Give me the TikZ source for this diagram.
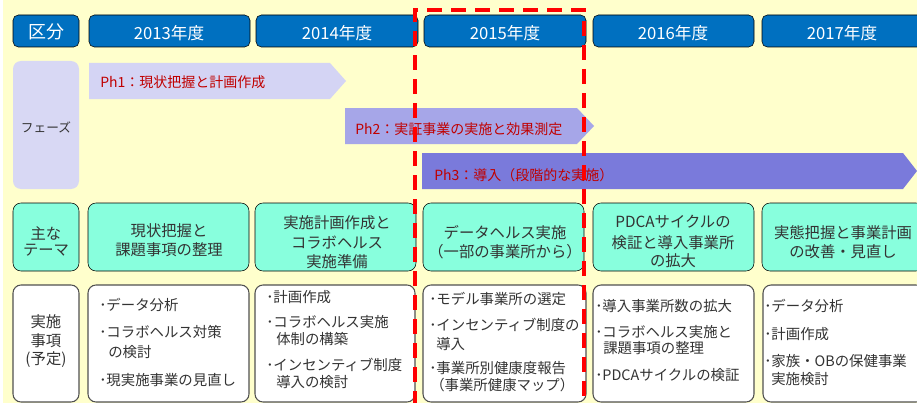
\documentclass[tikz,border=0pt]{standalone}
\usepackage{fontspec}
\setmainfont{Noto Sans CJK JP}

\definecolor{paper}{RGB}{255,255,204}
\definecolor{hdrblue}{RGB}{0,112,192}
\definecolor{phaselbl}{RGB}{216,216,244}
\definecolor{phaseone}{RGB}{212,212,244}
\definecolor{phasetwo}{RGB}{166,166,232}
\definecolor{phasethree}{RGB}{122,122,219}
\definecolor{themeaqua}{RGB}{136,255,221}
\definecolor{phasered}{RGB}{192,0,0}
\definecolor{framegray}{RGB}{80,80,80}
\definecolor{inkgray}{RGB}{51,51,51}

\tikzset{
  hdrbox/.style={fill=hdrblue, rounded corners=4pt},
  hdrtext/.style={inner sep=0pt, text=white, font=\fontsize{12.5}{15}\selectfont},
  phasetext/.style={inner sep=0pt, anchor=west, text=phasered, font=\fontsize{10.5}{13}\selectfont},
  themebox/.style={fill=themeaqua, rounded corners=6pt},
  themetext/.style={inner sep=0pt, text=inkgray, font=\fontsize{11.5}{14}\selectfont},
  itembox/.style={fill=white, draw=framegray, line width=0.8pt, rounded corners=6pt},
  itemtext/.style={inner sep=0pt, anchor=west, text=inkgray, font=\fontsize{10.8}{13}\selectfont},
  focusline/.style={draw=red, line width=3pt, dash pattern=on 11pt off 7pt}
}

\begin{document}
\begin{tikzpicture}[x=0.75pt,y=0.75pt,yscale=-1,xscale=1]
\useasboundingbox (0,0) rectangle (917,403);

%Shape: Background
\fill [white] (0,0) rectangle (917,403);
\fill [paper] (3,0) rectangle (917,403);

%Shape: Header Row
\draw [hdrbox] (13,15) rectangle (79,47);
\draw [hdrbox] (89,15) rectangle (250,47);
\draw [hdrbox] (256,15) rectangle (418,47);
\draw [hdrbox] (424,15) rectangle (586,47);
\draw [hdrbox] (593,15) rectangle (754,47);
\draw [hdrbox] (762,15) rectangle (924,47);
% Text Node
\node (kubun) [hdrtext, font=\fontsize{13.5}{15}\selectfont] at (46,32) {区分};
\node (y2013) [hdrtext] at (169,33) {2013年度};
\node (y2014) [hdrtext] at (337,33) {2014年度};
\node (y2015) [hdrtext] at (505,33) {2015年度};
\node (y2016) [hdrtext] at (673,33) {2016年度};
\node (y2017) [hdrtext] at (842,33) {2017年度};

%Shape: Phase Row
\fill [phaselbl, rounded corners=6pt] (13,61) rectangle (79,189);
\fill [phaseone] (89,63) -- (330,63) -- (346,81) -- (330,99) -- (89,99) -- cycle;
\fill [phasetwo] (345,108) -- (577,108) -- (594,126) -- (577,144) -- (345,144) -- cycle;
\fill [phasethree] (422,153) -- (903,153) -- (917,171) -- (903,189) -- (422,189) -- cycle;
% Text Node
\node (phase) [inner sep=0pt, text=inkgray, font=\fontsize{9.5}{12}\selectfont] at (46,127) {フェーズ};
\node (ph1) [phasetext] at (100,82) {Ph1：現状把握と計画作成};
\node (ph2) [phasetext] at (355,129) {Ph2：実証事業の実施と効果測定};
\node (ph3) [phasetext] at (434,175) {Ph3：導入（段階的な実施）};

%Shape: Theme Row
\draw [themebox] (13,203) rectangle (79,271);
\draw [themebox] (88,203) rectangle (249,271);
\draw [themebox] (255,203) rectangle (416,271);
\draw [themebox] (423,203) rectangle (584,271);
\draw [themebox] (593,203) rectangle (754,271);
\draw [themebox] (762,203) rectangle (924,271);
% Text Node
\node (thA) [themetext] at (46,233) {主な};
\node (thB) [themetext] at (46,250) {テーマ};
\node (th13a) [themetext] at (169,231) {現状把握と};
\node (th13b) [themetext] at (169,250) {課題事項の整理};
\node (th14a) [themetext] at (337,223) {実施計画作成と};
\node (th14b) [themetext] at (337,243) {コラボヘルス};
\node (th14c) [themetext] at (337,262) {実施準備};
\node (th15a) [themetext] at (505,233) {データヘルス実施};
\node (th15b) [themetext] at (505,252) {（一部の事業所から）};
\node (th16a) [themetext] at (673,222) {PDCAサイクルの};
\node (th16b) [themetext] at (673,243) {検証と導入事業所};
\node (th16c) [themetext] at (673,261) {の拡大};
\node (th17a) [themetext] at (843,233) {実態把握と事業計画};
\node (th17b) [themetext] at (843,252) {の改善・見直し};

%Shape: Item Row
\draw [itembox] (13,285) rectangle (79,402);
\draw [itembox] (88,285) rectangle (249,402);
\draw [itembox] (255,285) rectangle (415,402);
\draw [itembox] (423,285) rectangle (586,402);
\draw [itembox] (593,285) rectangle (754,402);
\draw [itembox] (763,285) rectangle (924,402);
% Text Node
\node (itA) [themetext] at (46,322) {実施};
\node (itB) [themetext] at (46,341) {事項};
\node (itC) [themetext] at (46,360) {(予定)};
% Text Node
\node (it13a) [itemtext] at (99,305) {･データ分析};
\node (it13b) [itemtext] at (99,332) {･コラボヘルス対策};
\node (it13c) [itemtext] at (108,352) {の検討};
\node (it13d) [itemtext] at (99,380) {･現実施事業の見直し};
% Text Node
\node (it14a) [itemtext] at (266,297) {･計画作成};
\node (it14b) [itemtext] at (266,322) {･コラボヘルス実施};
\node (it14c) [itemtext] at (276,339) {体制の構築};
\node (it14d) [itemtext] at (266,365) {･インセンティブ制度};
\node (it14e) [itemtext] at (276,382) {導入の検討};
% Text Node
\node (it15a) [itemtext] at (429,299) {･モデル事業所の選定};
\node (it15b) [itemtext] at (429,325) {･インセンティブ制度の};
\node (it15c) [itemtext] at (436,344) {導入};
\node (it15d) [itemtext] at (429,368) {･事業所別健康度報告};
\node (it15e) [itemtext] at (430,385) {（事業所健康マップ）};
% Text Node
\node (it16a) [itemtext] at (595,306) {･導入事業所数の拡大};
\node (it16b) [itemtext] at (595,332) {･コラボヘルス実施と};
\node (it16c) [itemtext] at (603,348) {課題事項の整理};
\node (it16d) [itemtext] at (595,375) {･PDCAサイクルの検証};
% Text Node
\node (it17a) [itemtext] at (764,306) {･データ分析};
\node (it17b) [itemtext] at (764,334) {･計画作成};
\node (it17c) [itemtext] at (764,361) {･家族・OBの保健事業};
\node (it17d) [itemtext] at (771,379) {実施検討};

%Straight Lines: 2015 focus frame
\draw [focusline] (415,406) -- (415,10) -- (584,10) -- (584,406);

\end{tikzpicture}
\end{document}
